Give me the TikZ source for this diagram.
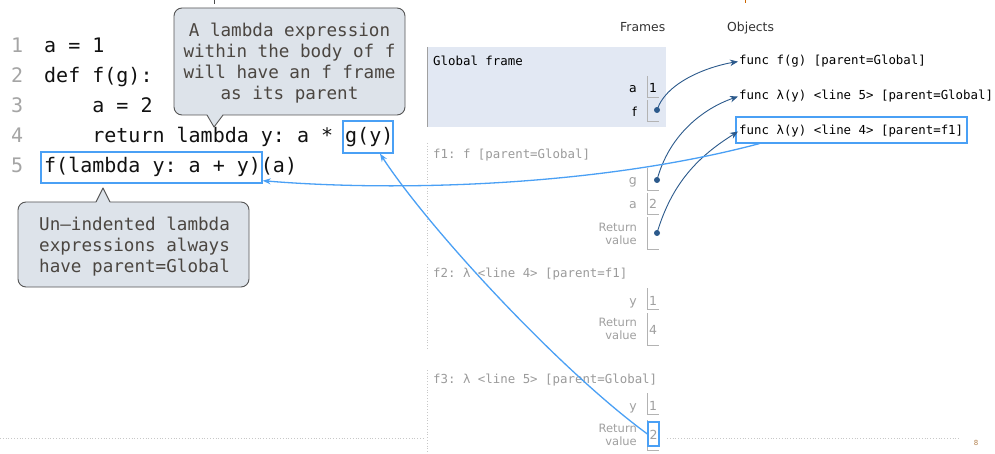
\documentclass[tikz,border=0pt]{standalone}
\usepackage{fontspec}
\setmainfont{DejaVu Sans}
\setsansfont{DejaVu Sans}
\setmonofont{DejaVu Sans Mono}
\usetikzlibrary{arrows.meta}
\definecolor{codeblack}{HTML}{111111}
\definecolor{lngrey}{HTML}{A5A5A5}
\definecolor{hlblue}{HTML}{4AA0F5}
\definecolor{calfill}{HTML}{DDE3EA}
\definecolor{calborder}{HTML}{555555}
\definecolor{caltextc}{HTML}{4B4641}
\definecolor{globfill}{HTML}{E2E8F3}
\definecolor{frgrey}{HTML}{A0A0A0}
\definecolor{hdrgrey}{HTML}{9B9B9B}
\definecolor{darrow}{HTML}{2C5A8C}
\definecolor{dotline}{HTML}{C8C8C8}
\begin{document}
\begin{tikzpicture}[x=1pt,y=-1pt,
  codeline/.style={font=\fontsize{20}{24}\selectfont\ttfamily, text=codeblack, inner sep=0pt, anchor=base west},
  lnum/.style={codeline, text=lngrey},
  hlbox/.style={draw=hlblue, line width=1.4pt, inner sep=0pt},
  callbody/.style={draw=calborder, fill=calfill, rounded corners=8pt, line width=0.9pt, inner sep=0pt},
  caltext/.style={font=\fontsize{17.6}{21}\selectfont\ttfamily, text=caltextc, inner sep=0pt},
  heading/.style={font=\fontsize{12.4}{14}\selectfont\sffamily, text=black!80, inner sep=0pt, anchor=base west},
  frhdr/.style={font=\fontsize{12.4}{14}\selectfont\ttfamily, text=hdrgrey, inner sep=0pt, anchor=base west},
  objtxt/.style={font=\fontsize{12.4}{14}\selectfont\ttfamily, text=black, inner sep=1pt, anchor=base west},
  frlab/.style={font=\fontsize{12.5}{14}\selectfont\sffamily, text=frgrey, inner sep=0pt, anchor=base east},
  retlab/.style={font=\fontsize{11.5}{13}\selectfont\sffamily, text=frgrey, inner sep=0pt, anchor=south east, align=right},
  valtxt/.style={font=\fontsize{12.5}{14}\selectfont\sffamily, text=frgrey, inner sep=0pt, anchor=base},
  vb/.style={draw=frgrey!80, line width=0.8pt},
  ptr/.style={circle, fill=darrow, inner sep=0pt, minimum size=6pt},
  darr/.style={draw=darrow, line width=0.9pt, -{Stealth[length=8pt,width=6.5pt]}},
  larr/.style={draw=hlblue, line width=1.3pt, -{Stealth[length=8pt,width=6pt]}},
  dotrule/.style={draw=dotline, line width=0.8pt, dotted}
]
\useasboundingbox (0,0) rectangle (995,454);
\fill[white] (0,0) rectangle (995,454);

% tiny clipped marks at the top edge
\draw[black!70, line width=1pt] (214,0) -- (214,4);
\draw[orange!80!black, line width=1pt] (745,0) -- (745,3);

% ---- code ----
\node[lnum] (n1) at (11,53) {1};
\node[lnum] (n2) at (11,83) {2};
\node[lnum] (n3) at (11,113) {3};
\node[lnum] (n4) at (11,143) {4};
\node[lnum] (n5) at (11,173) {5};
\node[codeline] (l1) at (44,53) {a = 1};
\node[codeline] (l2) at (44,83) {def f(g):};
\node[codeline] (l3) at (44,113) {\ \ \ \ a = 2};
\node[codeline] (l4) at (44,143) {\ \ \ \ return lambda y: a * g(y)};
\node[codeline] (l5) at (44,173) {f(lambda y: a + y)(a)};

\node[hlbox, minimum width=50pt, minimum height=32pt] (gy) at (368,137) {};
\node[hlbox, minimum width=221pt, minimum height=31pt] (box5) at (151.5,167.5) {};

% ---- callouts ----
\node[callbody, minimum width=231pt, minimum height=107pt] (c1) at (289.5,61.5) {};
\fill[calfill] (207,114) -- (214,127) -- (223,114) -- cycle;
\draw[calborder, line width=0.9pt, line join=round] (207,115) -- (214,127) -- (223,115);
\node[caltext, align=center] (c1t) at (289.5,63.5) {A lambda expression\\within the body of f\\will have an f frame\\as its parent};

\node[callbody, minimum width=231pt, minimum height=85pt] (c2) at (133.5,244.5) {};
\fill[calfill] (96,203) -- (103,188) -- (110,203) -- cycle;
\draw[calborder, line width=0.9pt, line join=round] (96,202) -- (103,188) -- (110,202);
\node[caltext, align=left, anchor=west] (c2t) at (39,246.4) {Un–indented lambda\\expressions always\\have parent=Global};

% ---- headings ----
\node[heading] (hf) at (620,32) {Frames};
\node[heading] (ho) at (727,32) {Objects};

% ---- global frame ----
\node[fill=globfill, minimum width=239pt, minimum height=80pt, inner sep=0pt] (glob) at (546.5,87) {};
\draw[frgrey, line width=1.5pt] (427.5,47) -- (427.5,127);
\node[frhdr, text=black] (gh) at (433,66) {Global frame};
\node[frlab, text=black] (ga) at (637,93) {a};
\node[frlab, text=black] (gf) at (637,117) {f};
\draw[vb] (647,76) -- (647,97) -- (659,97);
\draw[vb] (647,100) -- (647,121) -- (659,121);
\node[valtxt, text=black] (gav) at (653,93) {1};
\node[ptr] (gfd) at (657,110) {};

% ---- f1 ----
\draw[dotrule] (427.5,143) -- (427.5,257);
\node[frhdr] (f1h) at (433,159) {f1: f [parent=Global]};
\node[frlab] (f1g) at (637,185) {g};
\node[frlab] (f1a) at (637,209) {a};
\node[retlab] (f1r) at (637,245) {Return\\value};
\draw[vb] (647,168) -- (647,190) -- (659,190);
\draw[vb] (647,193) -- (647,214) -- (659,214);
\draw[vb] (647,217) -- (647,249) -- (659,249);
\node[ptr] (f1gd) at (657,180) {};
\node[valtxt] (f1av) at (653,209) {2};
\node[ptr] (f1rd) at (657,233) {};

% ---- f2 ----
\draw[dotrule] (427.5,264) -- (427.5,350);
\node[frhdr] (f2h) at (433,277) {f2: λ <line 4> [parent=f1]};
\node[frlab] (f2y) at (637,305) {y};
\node[retlab] (f2r) at (637,340) {Return\\value};
\draw[vb] (647,288) -- (647,309) -- (659,309);
\draw[vb] (647,313) -- (647,345) -- (659,345);
\node[valtxt] (f2yv) at (653,305) {1};
\node[valtxt] (f2rv) at (653,334) {4};

% ---- f3 ----
\draw[dotrule] (427.5,370) -- (427.5,454);
\node[frhdr] (f3h) at (433,383) {f3: λ <line 5> [parent=Global]};
\node[frlab] (f3y) at (637,410) {y};
\node[retlab] (f3r) at (637,446) {Return\\value};
\draw[vb] (647,393) -- (647,414) -- (659,414);
\draw[vb] (647,420) -- (647,450) -- (659,450);
\node[valtxt] (f3yv) at (653,410) {1};
\node[valtxt] (f3rv) at (653.5,439) {2};
\node[hlbox, line width=1.2pt, minimum width=11pt, minimum height=24pt] (ret2) at (653.5,434) {};

% ---- objects ----
\node[objtxt] (o1) at (738,65) {func f(g) [parent=Global]};
\node[objtxt] (o2) at (738,100) {func λ(y) <line 5> [parent=Global]};
\node[objtxt] (o3) at (738,135) {func λ(y) <line 4> [parent=f1]};
\node[hlbox, line width=1.2pt, minimum width=231pt, minimum height=26pt] (objbox) at (851.5,130) {};

% ---- bottom rule and page number ----
\draw[dotrule] (0,438) -- (424,438);
\draw[dotrule] (667,438) -- (960,438);
\node[font=\fontsize{7}{8}\selectfont\sffamily, text=orange!40!gray, inner sep=0pt] (pg) at (976,443) {8};

% ---- pointer arrows ----
\draw[darr] (gfd.center) .. controls +(10,-30) and +(-25,4) .. (o1.west);
\draw[darr] (f1gd.center) .. controls +(12,-45) and +(-35,12) .. (o2.west);
\draw[darr] (f1rd.center) .. controls +(15,-50) and +(-40,25) .. (o3.west);

% ---- highlight arrows ----
\draw[larr] ([xshift=24pt]objbox.south west) .. controls (600,186) and (400,192) .. ([yshift=3pt]box5.south east);
\draw[larr] (ret2.west) .. controls (560,370) and (430,230) .. ([xshift=12pt]gy.south);
\end{tikzpicture}
\end{document}
